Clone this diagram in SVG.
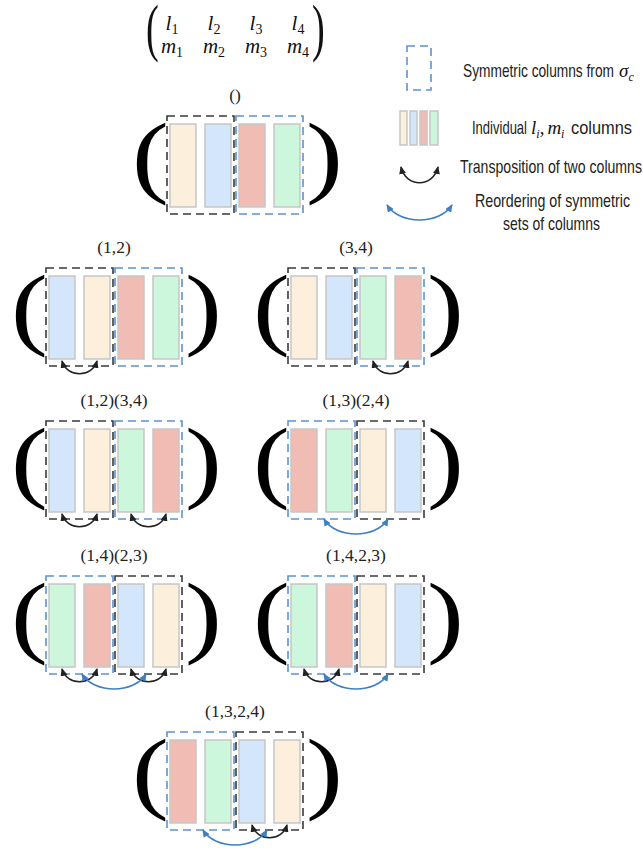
<svg xmlns="http://www.w3.org/2000/svg" width="643" height="850" viewBox="0 0 643 850">
  <style>
    .lbl { font-family: "Liberation Serif", serif; font-size: 17.5px; fill: #222; text-anchor: middle; }
    .par { font-family: "Liberation Serif", serif; font-size: 92px; fill: #000; }
    .mpar { font-family: "Liberation Serif", serif; font-size: 45px; fill: #111; }
    .ent { font-family: "Liberation Serif", serif; font-size: 21px; fill: #111; text-anchor: middle; }
    .ent .v { font-style: italic; }
    .ent .s { font-size: 14px; }
    .leg { font-family: "Liberation Sans", Arial, sans-serif; font-size: 19px; fill: #222; }
    .legm { font-family: "Liberation Serif", serif; font-style: italic; fill: #111; font-size: 19px; }
    .legm .s { font-size: 12px; }
    .col { stroke: #c6c6c6; stroke-width: 1.5; }
    .cA { fill: #fcefdb; }
    .cB { fill: #d3e6fb; }
    .cC { fill: #f1bcb3; }
    .cD { fill: #cdf7dd; }
    .bk { fill: none; stroke: #3a3a3a; stroke-width: 1.6; stroke-dasharray: 8 5; }
    .bl { fill: none; stroke: #5b93d3; stroke-width: 1.6; stroke-dasharray: 8 5; }
    .tr { fill: none; stroke: #222; stroke-width: 1.5; marker-start: url(#ah-k); marker-end: url(#ah-k); }
    .ro { fill: none; stroke: #3f7fc4; stroke-width: 1.5; marker-start: url(#ah-b); marker-end: url(#ah-b); }
  </style>
  <defs>
    <marker id="ah-k" viewBox="0 0 8 7" refX="7" refY="3.5" markerWidth="8" markerHeight="7" markerUnits="userSpaceOnUse" orient="auto-start-reverse">
      <path d="M0,0 L8,3.5 L0,7 z" fill="#222"/>
    </marker>
    <marker id="ah-b" viewBox="0 0 8 7" refX="7" refY="3.5" markerWidth="8" markerHeight="7" markerUnits="userSpaceOnUse" orient="auto-start-reverse">
      <path d="M0,0 L8,3.5 L0,7 z" fill="#3f7fc4"/>
    </marker>
  </defs>
  <rect width="643" height="850" fill="#fff"/>

  <!-- l/m matrix -->
  <g id="matrix">
    <text class="mpar" transform="translate(146,49) scale(0.85,1.4)">(</text>
    <text class="mpar" transform="translate(312,49) scale(0.85,1.4)">)</text>
    <text class="ent" x="172" y="30"><tspan class="v">l</tspan><tspan class="s" dy="4">1</tspan></text>
    <text class="ent" x="214" y="30"><tspan class="v">l</tspan><tspan class="s" dy="4">2</tspan></text>
    <text class="ent" x="256" y="30"><tspan class="v">l</tspan><tspan class="s" dy="4">3</tspan></text>
    <text class="ent" x="298" y="30"><tspan class="v">l</tspan><tspan class="s" dy="4">4</tspan></text>
    <text class="ent" x="172" y="53"><tspan class="v">m</tspan><tspan class="s" dy="4">1</tspan></text>
    <text class="ent" x="214" y="53"><tspan class="v">m</tspan><tspan class="s" dy="4">2</tspan></text>
    <text class="ent" x="256" y="53"><tspan class="v">m</tspan><tspan class="s" dy="4">3</tspan></text>
    <text class="ent" x="298" y="53"><tspan class="v">m</tspan><tspan class="s" dy="4">4</tspan></text>
  </g>

  <!-- legend -->
  <g id="legend">
    <rect class="bl" x="407" y="46" width="24" height="44" stroke-dasharray="7 8"/>
    <text class="leg" x="463" y="77" textLength="151" lengthAdjust="spacingAndGlyphs">Symmetric columns from</text>
    <text class="legm" x="619" y="77">σ<tspan class="s" dy="4">c</tspan></text>

    <rect class="col cA" x="400" y="111" width="7" height="34"/>
    <rect class="col cB" x="410" y="111" width="7" height="34"/>
    <rect class="col cC" x="420" y="111" width="7" height="34"/>
    <rect class="col cD" x="430" y="111" width="8" height="34"/>
    <text class="leg" x="472" y="134" textLength="55" lengthAdjust="spacingAndGlyphs">Individual</text>
    <text class="legm" x="531" y="134">l<tspan class="s" dy="4">i</tspan><tspan dy="-4" font-style="normal">,</tspan><tspan dx="3">m</tspan><tspan class="s" dy="4">i</tspan></text>
    <text class="leg" x="571" y="134" textLength="61" lengthAdjust="spacingAndGlyphs">columns</text>

    <path class="tr" d="M401,167 C406,188 433,188 438,167"/>
    <text class="leg" x="460" y="173" textLength="182" lengthAdjust="spacingAndGlyphs">Transposition of two columns</text>

    <path class="ro" d="M387,205 C400,225 439,225 452,205"/>
    <text class="leg" x="475" y="207" textLength="155" lengthAdjust="spacingAndGlyphs">Reordering of symmetric</text>
    <text class="leg" x="503" y="230" textLength="97" lengthAdjust="spacingAndGlyphs">sets of columns</text>
  </g>

  <!-- permutation panels -->
  <g id="perm-identity" transform="translate(167,116)">
    <text class="lbl" x="68" y="-15">()</text>
    <text class="par" transform="translate(-35,70) scale(1.2,1)">(</text>
    <text class="par" transform="translate(139,70) scale(1.2,1)">)</text>
    <rect class="col cA" x="3" y="8" width="26" height="83"/>
    <rect class="col cB" x="38" y="8" width="26" height="83"/>
    <rect class="col cC" x="72" y="8" width="26" height="83"/>
    <rect class="col cD" x="107" y="8" width="26" height="83"/>
    <rect class="bk" x="0" y="0" width="67" height="98"/>
    <rect class="bl" x="69" y="0" width="67" height="98"/>
  </g>

  <g id="perm-12" transform="translate(46,268)">
    <text class="lbl" x="68" y="-15">(1,2)</text>
    <text class="par" transform="translate(-35,70) scale(1.2,1)">(</text>
    <text class="par" transform="translate(139,70) scale(1.2,1)">)</text>
    <rect class="col cB" x="3" y="8" width="26" height="83"/>
    <rect class="col cA" x="38" y="8" width="26" height="83"/>
    <rect class="col cC" x="72" y="8" width="26" height="83"/>
    <rect class="col cD" x="107" y="8" width="26" height="83"/>
    <rect class="bk" x="0" y="0" width="67" height="98"/>
    <rect class="bl" x="69" y="0" width="67" height="98"/>
  </g>

  <g id="perm-34" transform="translate(288,268)">
    <text class="lbl" x="68" y="-15">(3,4)</text>
    <text class="par" transform="translate(-35,70) scale(1.2,1)">(</text>
    <text class="par" transform="translate(139,70) scale(1.2,1)">)</text>
    <rect class="col cA" x="3" y="8" width="26" height="83"/>
    <rect class="col cB" x="38" y="8" width="26" height="83"/>
    <rect class="col cD" x="72" y="8" width="26" height="83"/>
    <rect class="col cC" x="107" y="8" width="26" height="83"/>
    <rect class="bk" x="0" y="0" width="67" height="98"/>
    <rect class="bl" x="69" y="0" width="67" height="98"/>
  </g>

  <g id="perm-12-34" transform="translate(46,421)">
    <text class="lbl" x="68" y="-15">(1,2)(3,4)</text>
    <text class="par" transform="translate(-35,70) scale(1.2,1)">(</text>
    <text class="par" transform="translate(139,70) scale(1.2,1)">)</text>
    <rect class="col cB" x="3" y="8" width="26" height="83"/>
    <rect class="col cA" x="38" y="8" width="26" height="83"/>
    <rect class="col cD" x="72" y="8" width="26" height="83"/>
    <rect class="col cC" x="107" y="8" width="26" height="83"/>
    <rect class="bk" x="0" y="0" width="67" height="98"/>
    <rect class="bl" x="69" y="0" width="67" height="98"/>
  </g>

  <g id="perm-13-24" transform="translate(288,421)">
    <text class="lbl" x="68" y="-15">(1,3)(2,4)</text>
    <text class="par" transform="translate(-35,70) scale(1.2,1)">(</text>
    <text class="par" transform="translate(139,70) scale(1.2,1)">)</text>
    <rect class="col cC" x="3" y="8" width="26" height="83"/>
    <rect class="col cD" x="38" y="8" width="26" height="83"/>
    <rect class="col cA" x="72" y="8" width="26" height="83"/>
    <rect class="col cB" x="107" y="8" width="26" height="83"/>
    <rect class="bl" x="0" y="0" width="67" height="98"/>
    <rect class="bk" x="69" y="0" width="67" height="98"/>
  </g>

  <g id="perm-14-23" transform="translate(46,576)">
    <text class="lbl" x="68" y="-15">(1,4)(2,3)</text>
    <text class="par" transform="translate(-35,70) scale(1.2,1)">(</text>
    <text class="par" transform="translate(139,70) scale(1.2,1)">)</text>
    <rect class="col cD" x="3" y="8" width="26" height="83"/>
    <rect class="col cC" x="38" y="8" width="26" height="83"/>
    <rect class="col cB" x="72" y="8" width="26" height="83"/>
    <rect class="col cA" x="107" y="8" width="26" height="83"/>
    <rect class="bl" x="0" y="0" width="67" height="98"/>
    <rect class="bk" x="69" y="0" width="67" height="98"/>
  </g>

  <g id="perm-1423" transform="translate(288,576)">
    <text class="lbl" x="68" y="-15">(1,4,2,3)</text>
    <text class="par" transform="translate(-35,70) scale(1.2,1)">(</text>
    <text class="par" transform="translate(139,70) scale(1.2,1)">)</text>
    <rect class="col cD" x="3" y="8" width="26" height="83"/>
    <rect class="col cC" x="38" y="8" width="26" height="83"/>
    <rect class="col cA" x="72" y="8" width="26" height="83"/>
    <rect class="col cB" x="107" y="8" width="26" height="83"/>
    <rect class="bl" x="0" y="0" width="67" height="98"/>
    <rect class="bk" x="69" y="0" width="67" height="98"/>
  </g>

  <g id="perm-1324" transform="translate(167,732)">
    <text class="lbl" x="68" y="-15">(1,3,2,4)</text>
    <text class="par" transform="translate(-35,70) scale(1.2,1)">(</text>
    <text class="par" transform="translate(139,70) scale(1.2,1)">)</text>
    <rect class="col cC" x="3" y="8" width="26" height="83"/>
    <rect class="col cD" x="38" y="8" width="26" height="83"/>
    <rect class="col cB" x="72" y="8" width="26" height="83"/>
    <rect class="col cA" x="107" y="8" width="26" height="83"/>
    <rect class="bl" x="0" y="0" width="67" height="98"/>
    <rect class="bk" x="69" y="0" width="67" height="98"/>
  </g>

  <!-- swap arcs under the panels -->
  <g id="connectors">
    <!-- (1,2) -->
    <path class="tr" d="M62,361 C67,378 92,378 97,361"/>
    <!-- (3,4) -->
    <path class="tr" d="M373,361 C378,378 403,378 408,361"/>
    <!-- (1,2)(3,4) -->
    <path class="tr" d="M62,514 C67,531 92,531 97,514"/>
    <path class="tr" d="M131,514 C136,531 161,531 166,514"/>
    <!-- (1,3)(2,4) -->
    <path class="ro" d="M324,519 C336,539 376,539 388,519"/>
    <!-- (1,4)(2,3) -->
    <path class="tr" d="M62,669 C67,686 92,686 97,669"/>
    <path class="tr" d="M131,669 C136,686 161,686 166,669"/>
    <path class="ro" d="M82,674 C94,694 134,694 146,674"/>
    <!-- (1,4,2,3) -->
    <path class="tr" d="M304,669 C309,686 334,686 339,669"/>
    <path class="ro" d="M324,674 C336,694 376,694 388,674"/>
    <!-- (1,3,2,4) -->
    <path class="tr" d="M252,825 C257,842 282,842 287,825"/>
    <path class="ro" d="M203,830 C215,850 255,850 267,830"/>
  </g>
</svg>
